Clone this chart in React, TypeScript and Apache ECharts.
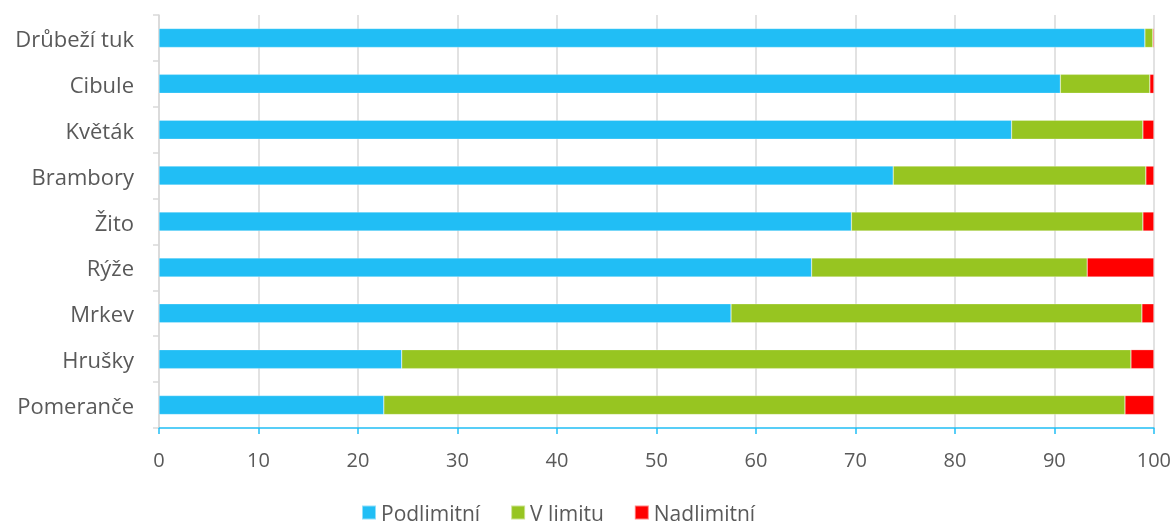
import React, { useEffect, useRef } from "react";
import * as echarts from "echarts";

const categories = ["Drůbeží tuk", "Cibule", "Květák", "Brambory", "Žito", "Rýže", "Mrkev", "Hrušky", "Pomeranče"];
const podlimitni = [99.1, 90.6, 85.7, 73.8, 69.6, 65.6, 57.5, 24.4, 22.6];
const vLimitu = [0.8, 9.0, 13.2, 25.4, 29.3, 27.7, 41.3, 73.3, 74.5];
const nadlimitni = [0.1, 0.4, 1.1, 0.8, 1.1, 6.7, 1.2, 2.3, 2.9];
const seriesNames = ["Podlimitní", "V limitu", "Nadlimitní"];
const colors = ["#21BEF5", "#97C521", "#FF0000"];

const FONT = "'Open Sans', 'Noto Sans', sans-serif";

export default function App() {
  const ref = useRef<HTMLDivElement>(null);
  useEffect(() => {
    if (!ref.current) return;
    const chart = echarts.init(ref.current, null, { renderer: "svg" });
    const data = [podlimitni, vLimitu, nadlimitni];
    chart.setOption({
      animation: false,
      textStyle: { fontFamily: FONT },
      legend: {
        left: 356,
        top: 497,
        itemWidth: 14,
        itemHeight: 14,
        itemGap: 30,
        icon: "rect",
        textStyle: { fontSize: 21, color: "#595959", fontFamily: FONT },
        data: seriesNames,
      },
      grid: { left: 159, right: 17, top: 15, bottom: 97, containLabel: false },
      xAxis: {
        type: "value",
        min: 0,
        max: 100,
        interval: 10,
        axisLine: { show: true, lineStyle: { color: "#21BEF5", width: 1.5 } },
        axisTick: { show: true, length: 6, lineStyle: { color: "#21BEF5", width: 1.5 } },
        axisLabel: { fontSize: 20, color: "#595959", margin: 21, fontFamily: FONT },
        splitLine: { show: true, lineStyle: { color: "#D9D9D9", width: 1.5 } },
      },
      yAxis: {
        type: "category",
        inverse: true,
        data: categories,
        axisLine: { show: true, lineStyle: { color: "#D9D9D9", width: 1.5 } },
        axisTick: { show: true, length: 6, lineStyle: { color: "#D9D9D9", width: 1.5 } },
        axisLabel: { fontSize: 22, color: "#595959", margin: 25, fontFamily: FONT },
      },
      series: seriesNames.map((name, i) => ({
        name,
        type: "bar",
        stack: "total",
        barWidth: 19,
        data: data[i],
        itemStyle: { color: colors[i], borderColor: "rgba(255,255,255,0.5)", borderWidth: 0.5 },
      })),
    });
    return () => chart.dispose();
  }, []);
  return (
    <div
      ref={ref}
      style={{ position: "fixed", left: 0, top: 0, width: 1174, height: 525 }}
    />
  );
}
